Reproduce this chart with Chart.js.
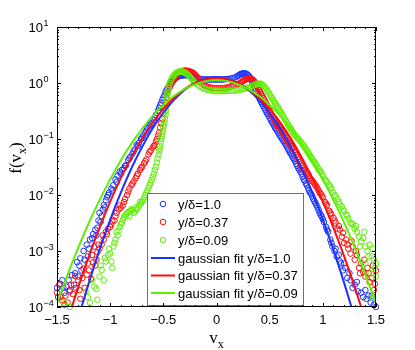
<!DOCTYPE html>
<html><head><meta charset="utf-8">
<script src="https://cdn.jsdelivr.net/npm/chart.js@4.4.1/dist/chart.umd.min.js"></script>
<style>html,body{margin:0;padding:0;background:#fff}#c{display:block}</style>
</head><body>
<canvas id="c" width="415" height="350"></canvas>
<script>
// ---------- data ----------
const xTickValues = [-1.5, -1, -0.5, 0, 0.5, 1, 1.5];
const xTickLabels = ['\u22121.5', '\u22121', '\u22120.5', '0', '0.5', '1', '1.5'];
const yTickExponents = [-4, -3, -2, -1, 0, 1];
const yTickLabels = ['\u22124', '\u22123', '\u22122', '\u22121', '0', '1'];
const seriesNames = ['y/\u03b4=1.0', 'y/\u03b4=0.37', 'y/\u03b4=0.09'];
const fitNames = ['gaussian fit y/\u03b4=1.0', 'gaussian fit y/\u03b4=0.37', 'gaussian fit y/\u03b4=0.09'];

const blueData = [
[-1.50,2.2e-4],[-1.47,2.6e-4],[-1.45,3.0e-4],[-1.43,1.8e-4],[-1.41,2.3e-4],[-1.38,2.0e-4],[-1.36,3.7e-4],[-1.34,2.5e-4],
[-1.31,6.3e-4],[-1.30,3.5e-4],[-1.28,7.4e-4],[-1.27,4.5e-4],[-1.25,1.0e-3],[-1.22,1.3e-3],[-1.21,8.0e-4],[-1.19,1.6e-3],
[-1.17,1.7e-3],[-1.15,1.2e-3],[-1.14,2.4e-3],[-1.12,2.6e-3],[-1.10,4.8e-3],[-1.09,3.3e-3],[-1.07,5.5e-3],[-1.06,6.6e-3],
[-1.04,8.0e-3],[-1.03,9.1e-3],[-1.01,1.1e-2],[-0.99,1.3e-2],[-0.97,1.5e-2],[-0.95,1.9e-2],[-0.93,2.2e-2],[-0.91,2.6e-2],
[-0.89,2.8e-2],[-0.87,3.0e-2],[-0.85,3.4e-2],[-0.83,4.2e-2],[-0.81,4.8e-2],[-0.79,5.5e-2],[-0.77,6.5e-2],[-0.75,7.8e-2],
[-0.73,8.5e-2],[-0.71,0.10],[-0.69,0.115],[-0.67,0.13],[-0.65,0.155],[-0.63,0.17],[-0.61,0.19],[-0.59,0.22],[-0.57,0.27],
[-0.55,0.32],[-0.53,0.40],[-0.51,0.50],[-0.49,0.60],[-0.47,0.75],[-0.45,0.86],[-0.43,1.0],[-0.41,1.1],[-0.39,1.2],
[-0.37,1.28],[-0.35,1.33],[-0.33,1.36],[-0.31,1.38],[-0.29,1.38],[-0.27,1.36],[-0.25,1.33],[-0.23,1.30],[-0.21,1.26],
[-0.19,1.22],[-0.17,1.20],[-0.15,1.18],[-0.13,1.17],[-0.11,1.16],[-0.09,1.16],[-0.07,1.15],[-0.05,1.15],[-0.03,1.15],
[-0.01,1.15],[0.01,1.15],[0.03,1.15],[0.05,1.15],[0.07,1.16],[0.09,1.17],[0.11,1.18],[0.13,1.20],[0.15,1.22],[0.17,1.25],
[0.19,1.30],[0.21,1.38],[0.23,1.45],[0.25,1.48],[0.27,1.48],[0.29,1.42],[0.31,1.30],[0.33,1.10],[0.35,0.90],[0.37,0.72],
[0.39,0.60],[0.41,0.50],[0.43,0.42],[0.45,0.36],[0.47,0.30],[0.49,0.26],[0.51,0.22],[0.53,0.19],[0.55,0.16],[0.57,0.14],
[0.59,0.12],[0.61,0.105],[0.63,0.092],[0.65,0.080],[0.67,0.068],[0.69,0.058],[0.71,0.050],[0.73,0.043],[0.75,0.036],
[0.77,0.030],[0.79,0.026],[0.81,0.021],[0.83,0.018],[0.85,0.015],[0.87,0.012],[0.89,0.0105],[0.91,0.0085],[0.93,0.0072],
[0.95,0.0060],[0.97,0.0048],[0.99,0.0041],[1.01,0.0033],[1.03,0.0027],[1.05,0.0022],[1.07,0.0016],[1.09,0.0012],
[1.11,0.0010],[1.13,8.0e-4],[1.15,8.5e-4],[1.17,6.0e-4],[1.19,4.5e-4],[1.21,5.0e-4],[1.23,3.3e-4],[1.26,3.0e-4],
[1.28,2.2e-4],[1.30,2.5e-4],[1.33,1.9e-4],[1.36,1.8e-4],[1.38,1.5e-4],[1.41,1.4e-4],[1.43,1.6e-4],[1.45,1.2e-4],
[1.48,1.1e-4],[1.50,1.0e-4],
[-1.49,1.5e-4],[-1.44,2.2e-4],[-1.39,3.0e-4],[-1.33,4.0e-4],[-1.29,5.5e-4],[-1.24,7.0e-4],[-1.20,1.1e-3],[-1.16,2.0e-3],
[-1.13,1.9e-3],[-1.11,3.5e-3],[-1.08,4.2e-3],[-1.05,6.0e-3],[-1.02,1.0e-2],[-0.98,1.2e-2],[-0.94,1.7e-2],[-0.90,2.4e-2],
[-0.86,3.3e-2],[-0.82,4.5e-2],[-0.78,6.0e-2],[-0.74,7.5e-2],[-0.70,0.105],[-0.66,0.14],[-0.62,0.18],[-0.58,0.24],
[-0.54,0.36],[-0.52,0.44],[-0.50,0.55],[-0.48,0.68],[-0.46,0.80],[-0.44,0.94],[-0.42,1.05],[-0.40,1.15],[-0.38,1.24],
[-0.36,1.31],[-0.34,1.35],[-0.32,1.37],[-0.30,1.38],[-0.28,1.37],[-0.26,1.35],[-0.24,1.31],[-0.22,1.28],[-0.20,1.24],
[0.20,1.34],[0.22,1.42],[0.24,1.47],[0.26,1.49],[0.28,1.46],[0.30,1.37],[0.32,1.20],[0.34,1.0],[0.36,0.80],[0.38,0.66],
[0.40,0.55],[0.42,0.46],[0.44,0.39],[0.46,0.33],[0.48,0.28],[0.50,0.24],[0.52,0.20],[0.54,0.175],[0.56,0.15],[0.58,0.13],
[0.60,0.112],[0.62,0.098],[0.64,0.086],[0.66,0.074],[0.68,0.063],[0.70,0.054],[0.72,0.046],[0.74,0.040],[0.76,0.033],
[0.78,0.028],[0.80,0.024],[0.82,0.019],[0.84,0.016],[0.86,0.0135],[0.88,0.011],[0.90,0.0095],[0.92,0.0078],[0.94,0.0066],
[0.96,0.0054],[0.98,0.0044],[1.00,0.0037],[1.04,0.0024],[1.08,0.0014],[1.12,0.0011],[1.16,6.5e-4],[1.20,6.0e-4],
[1.25,4.0e-4],[1.32,2.8e-4],[1.40,2.0e-4],[1.46,1.6e-4]
];

const redData = [
[-1.50,1.8e-4],[-1.47,1.5e-4],[-1.45,1.3e-4],[-1.42,1.6e-4],[-1.40,1.2e-4],[-1.37,2.5e-4],[-1.35,1.7e-4],[-1.32,2.2e-4],
[-1.30,3.0e-4],[-1.28,1.4e-4],[-1.26,3.3e-4],[-1.24,2.2e-4],[-1.22,3.8e-4],[-1.20,4.5e-4],[-1.18,3.2e-4],[-1.16,6.3e-4],
[-1.14,5.5e-4],[-1.12,9.5e-4],[-1.10,1.1e-3],[-1.08,1.3e-3],[-1.06,1.6e-3],[-1.04,2.2e-3],[-1.02,2.5e-3],[-1.00,2.7e-3],
[-0.98,3.4e-3],[-0.96,3.5e-3],[-0.94,4.8e-3],[-0.92,5.5e-3],[-0.90,5.9e-3],[-0.88,6.5e-3],[-0.86,8.5e-3],[-0.84,1.0e-2],
[-0.82,1.3e-2],[-0.80,1.5e-2],[-0.78,1.75e-2],[-0.76,2.0e-2],[-0.74,2.4e-2],[-0.72,2.8e-2],[-0.70,3.2e-2],[-0.68,3.7e-2],
[-0.66,4.3e-2],[-0.64,5.3e-2],[-0.62,6.2e-2],[-0.60,7.0e-2],[-0.58,7.8e-2],[-0.56,0.10],[-0.54,0.13],[-0.52,0.19],
[-0.50,0.29],[-0.48,0.44],[-0.46,0.69],[-0.44,0.85],[-0.42,1.0],[-0.40,1.15],[-0.38,1.30],[-0.36,1.45],[-0.34,1.55],
[-0.32,1.62],[-0.30,1.66],[-0.28,1.65],[-0.26,1.62],[-0.24,1.58],[-0.22,1.50],[-0.20,1.40],[-0.18,1.25],[-0.16,1.10],
[-0.14,0.98],[-0.12,0.92],[-0.10,0.88],[-0.08,0.85],[-0.06,0.83],[-0.04,0.82],[-0.02,0.81],[0.00,0.81],[0.02,0.81],
[0.04,0.81],[0.06,0.81],[0.08,0.82],[0.10,0.83],[0.12,0.85],[0.14,0.88],[0.16,0.90],[0.18,0.93],[0.20,0.96],[0.22,1.0],
[0.24,1.06],[0.26,1.12],[0.28,1.17],[0.30,1.20],[0.32,1.20],[0.34,1.15],[0.36,1.05],[0.38,0.88],[0.40,0.75],[0.42,0.64],
[0.44,0.54],[0.46,0.46],[0.48,0.39],[0.50,0.32],[0.52,0.27],[0.54,0.23],[0.56,0.19],[0.58,0.17],[0.60,0.158],[0.62,0.135],
[0.64,0.115],[0.66,0.095],[0.68,0.085],[0.70,0.075],[0.72,0.068],[0.74,0.058],[0.76,0.047],[0.78,0.039],[0.80,0.033],
[0.82,0.028],[0.84,0.026],[0.86,0.024],[0.88,0.020],[0.90,0.018],[0.92,0.016],[0.94,0.014],[0.96,0.012],[0.98,0.0105],
[1.00,0.0090],[1.02,0.0075],[1.04,0.0066],[1.06,0.0052],[1.08,0.0045],[1.10,0.0039],[1.12,0.0032],[1.14,0.0025],
[1.16,0.0024],[1.18,0.0018],[1.20,0.0014],[1.22,0.0016],[1.24,0.0011],[1.26,9.0e-4],[1.28,0.0012],[1.30,7.0e-4],
[1.32,8.5e-4],[1.34,5.0e-4],[1.36,6.0e-4],[1.38,4.2e-4],[1.40,3.5e-4],[1.42,5.0e-4],[1.44,2.8e-4],[1.46,3.3e-4],
[1.48,2.0e-4],[1.50,4.5e-4],
[-1.48,2.5e-4],[-1.43,1.1e-4],[-1.38,1.9e-4],[-1.33,3.6e-4],[-1.29,2.0e-4],[-1.25,4.8e-4],[-1.21,6.0e-4],[-1.17,8.5e-4],
[-1.13,7.0e-4],[-1.11,1.3e-3],[-1.07,1.9e-3],[-1.03,2.0e-3],[-0.99,3.0e-3],[-0.95,4.2e-3],[-0.91,6.5e-3],[-0.87,7.5e-3],
[-0.83,1.15e-2],[-0.79,1.6e-2],[-0.75,2.2e-2],[-0.71,3.0e-2],[-0.67,4.0e-2],[-0.63,5.8e-2],[-0.59,7.5e-2],[-0.57,9.0e-2],
[-0.55,0.115],[-0.53,0.16],[-0.51,0.23],[-0.49,0.36],[-0.47,0.55],[-0.45,0.78],[-0.43,0.93],[-0.41,1.08],[-0.39,1.22],
[-0.37,1.38],[-0.35,1.50],[-0.33,1.60],[-0.31,1.65],[-0.29,1.66],[-0.27,1.64],[-0.25,1.60],[-0.23,1.55],[-0.21,1.45],
[-0.19,1.33],[-0.17,1.18],[-0.15,1.03],
[0.25,1.09],[0.27,1.15],[0.29,1.19],[0.31,1.21],[0.33,1.18],[0.35,1.10],[0.37,0.96],[0.39,0.81],[0.41,0.69],[0.43,0.59],
[0.45,0.50],[0.47,0.42],[0.49,0.35],[0.51,0.29],[0.53,0.25],[0.55,0.21],[0.57,0.18],[0.59,0.165],[0.61,0.145],[0.63,0.125],
[0.65,0.105],[0.67,0.090],[0.69,0.080],[0.71,0.070],[0.73,0.062],[0.75,0.052],[0.77,0.043],[0.79,0.036],[0.81,0.030],
[0.83,0.027],[0.85,0.025],[0.87,0.022],[0.89,0.019],[0.91,0.017],[0.93,0.015],[0.95,0.013],[0.97,0.011],[0.99,0.0097],
[1.03,0.0070],[1.07,0.0048],[1.11,0.0035],[1.15,0.0028],[1.19,0.0021],[1.23,0.0013],[1.27,0.0015],[1.31,0.0010],
[1.35,4.0e-4],[1.39,7.0e-4],[1.43,4.0e-4],[1.47,5.5e-4],[1.49,2.6e-4]
];

const greenData = [
[-1.43,1.2e-4],[-1.38,1.0e-4],[-1.23,1.9e-4],[-1.19,1.2e-4],[-1.15,2.3e-4],[-1.12,1.35e-4],[-1.10,3.5e-4],[-1.08,4.6e-4],
[-1.06,3.0e-4],[-1.04,6.5e-4],[-1.02,8.5e-4],[-1.00,9.0e-4],[-0.98,5.0e-4],[-0.97,1.2e-3],[-0.95,1.6e-3],[-0.93,1.9e-3],
[-0.91,2.7e-3],[-0.89,3.2e-3],[-0.87,4.0e-3],[-0.85,4.5e-3],[-0.83,5.0e-3],[-0.81,5.2e-3],[-0.79,5.4e-3],[-0.77,5.0e-3],
[-0.75,5.5e-3],[-0.73,6.5e-3],[-0.71,7.0e-3],[-0.69,8.0e-3],[-0.67,1.0e-2],[-0.65,1.2e-2],[-0.63,1.5e-2],[-0.61,1.85e-2],
[-0.59,2.4e-2],[-0.57,3.2e-2],[-0.555,4.5e-2],[-0.54,6.0e-2],[-0.53,7.5e-2],[-0.52,0.10],[-0.51,0.125],[-0.50,0.16],
[-0.49,0.20],[-0.48,0.27],[-0.475,0.35],[-0.47,0.45],[-0.465,0.56],[-0.46,0.68],[-0.45,0.83],[-0.44,1.0],[-0.42,1.2],
[-0.40,1.38],[-0.38,1.50],[-0.36,1.58],[-0.34,1.60],[-0.32,1.60],[-0.30,1.55],[-0.28,1.45],[-0.26,1.35],[-0.24,1.22],
[-0.22,1.10],[-0.20,1.0],[-0.18,0.93],[-0.16,0.87],[-0.14,0.83],[-0.12,0.80],[-0.10,0.77],[-0.08,0.75],[-0.06,0.74],
[-0.04,0.73],[-0.02,0.72],[0.00,0.72],[0.02,0.72],[0.04,0.72],[0.06,0.72],[0.08,0.72],[0.10,0.72],[0.12,0.72],[0.14,0.72],
[0.16,0.73],[0.18,0.74],[0.20,0.75],[0.22,0.76],[0.24,0.77],[0.26,0.79],[0.28,0.81],[0.30,0.83],[0.32,0.86],[0.34,0.89],
[0.36,0.92],[0.38,0.95],[0.40,0.97],[0.42,0.96],[0.44,0.90],[0.46,0.82],[0.48,0.72],[0.50,0.62],[0.52,0.54],[0.54,0.47],
[0.56,0.41],[0.58,0.36],[0.60,0.31],[0.62,0.27],[0.64,0.23],[0.66,0.20],[0.68,0.17],[0.70,0.15],[0.72,0.13],[0.74,0.115],
[0.76,0.105],[0.78,0.095],[0.80,0.085],[0.82,0.076],[0.84,0.066],[0.86,0.058],[0.88,0.050],[0.90,0.044],[0.92,0.039],
[0.94,0.034],[0.96,0.029],[0.98,0.026],[1.00,0.022],[1.02,0.019],[1.04,0.017],[1.06,0.015],[1.08,0.013],[1.10,0.011],
[1.12,0.0095],[1.14,0.0085],[1.16,0.0068],[1.18,0.0062],[1.20,0.0052],[1.22,0.0045],[1.24,0.0038],[1.26,0.0032],
[1.28,0.0030],[1.30,0.0025],[1.32,0.0022],[1.34,0.0018],[1.36,0.0015],[1.38,0.0017],[1.40,0.0012],[1.42,0.0010],
[1.44,0.0013],[1.46,8.0e-4],[1.48,7.0e-4],[1.50,6.0e-4],[1.40,6.0e-4],[1.45,4.0e-4],[1.50,3.5e-4],[1.47,1.5e-4],
[-1.21,1.5e-4],[-1.17,3.0e-4],[-1.13,2.1e-4],[-1.09,5.5e-4],[-1.05,7.5e-4],[-1.01,1.1e-3],[-0.99,6.5e-4],[-0.96,1.4e-3],
[-0.94,2.2e-3],[-0.92,2.3e-3],[-0.90,3.0e-3],[-0.88,3.6e-3],[-0.86,4.3e-3],[-0.84,4.7e-3],[-0.82,4.2e-3],[-0.80,5.6e-3],
[-0.78,4.8e-3],[-0.76,6.0e-3],[-0.74,5.8e-3],[-0.72,7.5e-3],[-0.70,7.6e-3],[-0.68,9.0e-3],[-0.66,1.1e-2],[-0.64,1.35e-2],
[-0.62,1.65e-2],[-0.60,2.1e-2],[-0.58,2.8e-2],[-0.56,3.8e-2],[-0.545,5.2e-2],[-0.535,6.7e-2],[-0.525,8.7e-2],[-0.515,0.112],
[-0.505,0.14],[-0.495,0.18],[-0.485,0.23],[-0.478,0.31],[-0.472,0.40],[-0.468,0.50],[-0.462,0.62],[-0.455,0.75],
[-0.445,0.92],[-0.43,1.10],[-0.41,1.30],[-0.39,1.45],[-0.37,1.55],[-0.35,1.60],[-0.33,1.61],[-0.31,1.58],[-0.29,1.50],
[-0.27,1.40],[-0.25,1.28],[-0.23,1.16],[-0.21,1.05],
[0.39,0.97],[0.41,0.97],[0.43,0.93],[0.45,0.86],[0.47,0.77],[0.49,0.67],[0.51,0.58],[0.53,0.50],[0.55,0.44],[0.57,0.38],
[0.59,0.33],[0.61,0.29],[0.63,0.25],[0.65,0.215],[0.67,0.185],[0.69,0.16],[0.71,0.14],[0.73,0.122],[0.75,0.11],[0.77,0.10],
[0.79,0.090],[0.81,0.080],[0.83,0.071],[0.85,0.062],[0.87,0.054],[0.89,0.047],[0.91,0.041],[0.93,0.036],[0.95,0.031],
[0.97,0.027],[0.99,0.024],[1.03,0.018],[1.07,0.014],[1.11,0.010],[1.15,0.0075],[1.19,0.0055],[1.23,0.0042],[1.27,0.0031],
[1.31,0.0028],[1.35,0.0012],[1.39,0.0022],[1.43,8.0e-4],[1.47,0.0011],[1.49,5.0e-4]
];

const fitV = [-1.5,-1.4,-1.3,-1.2,-1.1,-1.0,-0.9,-0.8,-0.7,-0.6,-0.5,-0.4,-0.3,-0.2,-0.1,0,
              0.1,0.2,0.3,0.4,0.5,0.6,0.7,0.8,0.9,1.0,1.1,1.2,1.3,1.4,1.5];
const fitBlue = [2.3e-6,1.3e-5,6.3e-5,2.7e-4,1.05e-3,3.6e-3,0.011,0.030,0.072,0.155,0.294,0.50,0.754,1.01,1.21,1.28,
                 1.21,1.01,0.754,0.50,0.294,0.155,0.072,0.030,0.011,3.6e-3,1.05e-3,2.7e-4,6.3e-5,1.3e-5,2.3e-6];
const fitRed  = [1.3e-5,5.7e-5,2.26e-4,8.1e-4,2.6e-3,7.6e-3,0.020,0.0474,0.1016,0.197,0.345,0.545,0.778,1.00,1.17,1.23,
                 1.17,1.00,0.778,0.545,0.345,0.197,0.1016,0.0474,0.020,7.6e-3,2.6e-3,8.1e-4,2.26e-4,5.7e-5,1.3e-5];
const fitGreen= [1.17e-4,3.8e-4,1.15e-3,3.2e-3,8.1e-3,0.019,0.0413,0.0826,0.152,0.259,0.405,0.585,0.778,0.953,1.08,1.12,
                 1.08,0.953,0.778,0.585,0.405,0.259,0.152,0.0826,0.0413,0.019,8.1e-3,3.2e-3,1.15e-3,3.8e-4,1.17e-4];

// ---------- styles ----------
const colBlue = '#1a33ff', colRed = '#ff0d0d', colGreen = '#5cf000';
const SANS = '"Liberation Sans", Arial, sans-serif';
const SERIF = '"Liberation Serif", "Times New Roman", serif';

const toPts = arr => arr.map(p => ({x: p[0], y: p[1]}));
const fitPts = vals => fitV.map((v, i) => ({x: v, y: vals[i]}));

function scatterSet(label, data, color, order) {
  return {label, data: toPts(data), showLine: false, pointStyle: 'circle', pointRadius: 2.8,
    pointBorderWidth: 1, pointBorderColor: color, pointBackgroundColor: 'rgba(0,0,0,0)',
    borderColor: color, order, clip: 3};
}
function fitSet(label, vals, color, order) {
  return {label, data: fitPts(vals), showLine: true, pointRadius: 0, borderColor: color, borderWidth: 2,
    cubicInterpolationMode: 'monotone', fill: false, order, clip: 0};
}

const decor = {
  id: 'decor',
  afterDraw(chart) {
    const {ctx, chartArea: a, scales: {x, y}} = chart;
    ctx.save();
    // legend
    const lx = 147.5, ly = 193.5, lw = 156, lh = 112;
    ctx.fillStyle = '#fff';
    ctx.fillRect(lx, ly, lw, lh);
    ctx.strokeStyle = '#707070'; ctx.lineWidth = 1;
    ctx.strokeRect(lx, ly, lw, lh);
    const rows = [204, 222, 240, 258, 275.5, 293];
    const cols = [colBlue, colRed, colGreen];
    ctx.font = '13px ' + SANS; ctx.textBaseline = 'middle'; ctx.textAlign = 'left';
    for (let i = 0; i < 3; i++) {
      ctx.beginPath(); ctx.arc(163, rows[i], 2.8, 0, 2 * Math.PI);
      ctx.strokeStyle = cols[i]; ctx.lineWidth = 1; ctx.stroke();
      ctx.fillStyle = '#000'; ctx.fillText(seriesNames[i], 178, rows[i] + 1);
    }
    for (let i = 0; i < 3; i++) {
      const r = rows[i + 3];
      ctx.beginPath(); ctx.moveTo(151, r); ctx.lineTo(175, r);
      ctx.strokeStyle = cols[i]; ctx.lineWidth = 2; ctx.stroke();
      ctx.fillStyle = '#000'; ctx.fillText(fitNames[i], 178, r + 1);
    }
    // box and inward ticks
    ctx.strokeStyle = '#000'; ctx.lineWidth = 1;
    ctx.beginPath();
    for (let k = -15; k <= 15; k++) {
      const px = Math.round(x.getPixelForValue(k / 10)) + 0.5;
      const L = (k % 5 === 0) ? 4 : 2;
      ctx.moveTo(px, a.bottom); ctx.lineTo(px, a.bottom - L);
      ctx.moveTo(px, a.top); ctx.lineTo(px, a.top + L);
    }
    for (let d = -4; d <= 0; d++) {
      for (let m = 1; m <= 10; m++) {
        const val = m * Math.pow(10, d);
        const py = Math.round(y.getPixelForValue(val)) + 0.5;
        const L = (m === 1 || m === 10) ? 4 : 2;
        ctx.moveTo(a.left, py); ctx.lineTo(a.left + L, py);
        ctx.moveTo(a.right, py); ctx.lineTo(a.right - L, py);
      }
    }
    ctx.stroke();
    ctx.strokeRect(a.left + 0.5, a.top + 0.5, a.right - a.left - 1, a.bottom - a.top - 1);
    // x tick labels
    ctx.fillStyle = '#000';
    ctx.font = '13px ' + SANS; ctx.textAlign = 'center'; ctx.textBaseline = 'alphabetic';
    xTickValues.forEach((v, i) => ctx.fillText(xTickLabels[i], x.getPixelForValue(v), a.bottom + 17));
    // y tick labels 10^n
    yTickExponents.forEach((e, i) => {
      const py = y.getPixelForValue(Math.pow(10, e));
      ctx.font = '13px ' + SANS; ctx.textAlign = 'right';
      ctx.fillText('10', 43, py + 4.5);
      ctx.font = '9px ' + SANS; ctx.textAlign = 'left';
      ctx.fillText(yTickLabels[i], 43.5, py - 1);
    });
    // x axis title v_x
    ctx.font = '17px ' + SERIF; ctx.textAlign = 'left';
    const wv = ctx.measureText('v').width;
    ctx.font = '12px ' + SERIF;
    const wx = ctx.measureText('x').width;
    const sx = (a.left + a.right) / 2 - (wv + wx) / 2;
    ctx.font = '17px ' + SERIF; ctx.fillText('v', sx, 343);
    ctx.font = '12px ' + SERIF; ctx.fillText('x', sx + wv, 348);
    // y axis title f(v_x)
    ctx.translate(21, 158); ctx.rotate(-Math.PI / 2);
    ctx.font = '17px ' + SERIF;
    const w1 = ctx.measureText('f(v').width, w3 = ctx.measureText(')').width;
    ctx.font = '12px ' + SERIF;
    const w2 = ctx.measureText('x').width;
    let tx = -(w1 + w2 + w3) / 2;
    ctx.font = '17px ' + SERIF; ctx.fillText('f(v', tx, 0);
    ctx.font = '12px ' + SERIF; ctx.fillText('x', tx + w1, 5);
    ctx.font = '17px ' + SERIF; ctx.fillText(')', tx + w1 + w2, 0);
    ctx.restore();
  }
};

new Chart(document.getElementById('c'), {
  type: 'scatter',
  data: {
    datasets: [
      scatterSet(seriesNames[0], blueData, colBlue, 6),
      scatterSet(seriesNames[1], redData, colRed, 5),
      scatterSet(seriesNames[2], greenData, colGreen, 4),
      fitSet(fitNames[0], fitBlue, colBlue, 3),
      fitSet(fitNames[1], fitRed, colRed, 2),
      fitSet(fitNames[2], fitGreen, colGreen, 1)
    ]
  },
  options: {
    responsive: false, animation: false, devicePixelRatio: 1,
    layout: {padding: {left: 57, right: 39, top: 27, bottom: 43}},
    plugins: {legend: {display: false}, tooltip: {enabled: false}},
    scales: {
      x: {type: 'linear', min: -1.5, max: 1.5, display: false},
      y: {type: 'logarithmic', min: 1e-4, max: 10, display: false}
    }
  },
  plugins: [decor]
});
</script>
</body></html>
